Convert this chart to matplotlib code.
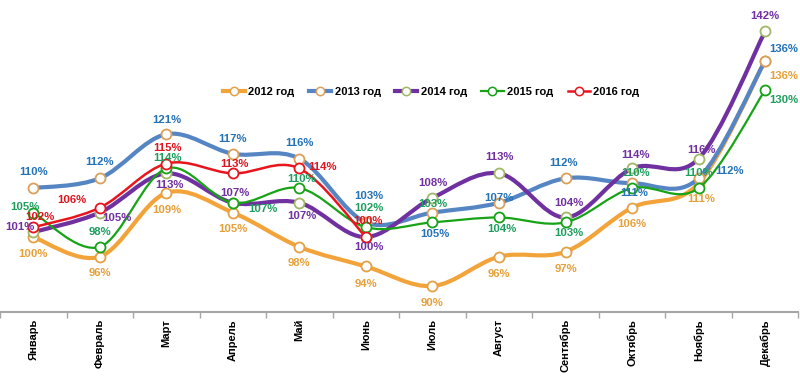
import numpy as np
import matplotlib
matplotlib.use('Agg')
import matplotlib.pyplot as plt
from matplotlib.path import Path
from matplotlib.patches import PathPatch
from matplotlib.lines import Line2D

plt.rcParams['font.family'] = ['Liberation Sans', 'DejaVu Sans']

months = ['Январь', 'Февраль', 'Март', 'Апрель', 'Май', 'Июнь',
          'Июль', 'Август', 'Сентябрь', 'Октябрь', 'Ноябрь', 'Декабрь']
series_names = ['2012 год', '2013 год', '2014 год', '2015 год', '2016 год']
v2012 = [100, 96, 109, 105, 98, 94, 90, 96, 97, 106, 111, 136]
v2013 = [110, 112, 121, 117, 116, 103, 105, 107, 112, 111, 112, 136]
v2014 = [101, 105, 113, 107, 107, 100, 108, 113, 104, 114, 116, 142]
v2015 = [105, 98, 114, 107, 110, 102, 103, 104, 103, 110, 110, 130]
v2016 = [102, 106, 115, 113, 114, 100]

values = [v2012, v2013, v2014, v2015, v2016]

line_colors = ['#F2A43A', '#5585C2', '#7030A0', '#16A316', '#E8141E']
edge_colors = ['#E3A045', '#D9A05B', '#A0B868', '#16A316', '#E8141E']
label_colors = ['#E6A03A', '#2472B8', '#7030A0', '#1E9E5E', '#E0141E']
line_widths = [3.0, 3.0, 3.0, 1.6, 1.8]

# label offsets in pixels (dx right, dy down)
offsets = [
    [(0, 17), (0, 16), (0, 17), (0, 16), (0, 16), (0, 18), (0, 17), (0, 17), (0, 17), (0, 16), (3, 16), (19, 15)],
    [(0, -16), (0, -16), (0, -14), (0, -15), (0, -16), (3, -26), (2, 21), (0, -5), (-2, -15), (2, 10), (31, -7), (19, -12)],
    [(-13, -5), (17, 5), (3, 12), (2, -10), (2, 13), (3, 10), (0, -15), (0, -16), (3, -14), (3, -13), (3, -9), (0, -15)],
    [(-8, -6), (0, -15), (1, -10), (30, 6), (2, -9), (3, -19), (0, -18), (3, 12), (3, 11), (3, -15), (0, -15), (19, 10)],
    [(7, -10), (-28, -8), (1, -16), (2, -9), (23, -1), (2, -16)],
]

fig = plt.figure(figsize=(8, 3.91), dpi=100)
ax = fig.add_axes([0, 1 - 312 / 391, 0.998, 312 / 391])
ax.set_xlim(-0.5, 11.5)
ax.set_ylim(84.7, 148.4)


def smooth_path(xs, ys):
    pts = np.column_stack([xs, ys]).astype(float)
    n = len(pts)
    verts = [pts[0]]
    codes = [Path.MOVETO]
    for i in range(n - 1):
        p_prev = pts[i - 1] if i > 0 else pts[i]
        p_next2 = pts[i + 2] if i + 2 < n else pts[i + 1]
        c1 = pts[i] + (pts[i + 1] - p_prev) / 6.0
        c2 = pts[i + 1] - (p_next2 - pts[i]) / 6.0
        verts += [c1, c2, pts[i + 1]]
        codes += [Path.CURVE4] * 3
    return Path(verts, codes)


for k, vals in enumerate(values):
    xs = np.arange(len(vals))
    z = 2 + k
    patch = PathPatch(smooth_path(xs, vals), fill=False, edgecolor=line_colors[k],
                      lw=line_widths[k], capstyle='round', joinstyle='round', zorder=z)
    ax.add_patch(patch)
    ax.plot(xs, vals, 'o', ms=7.2, mfc='white', mec=edge_colors[k], mew=1.3, zorder=z + 0.1)

for k, vals in enumerate(values):
    for i, v in enumerate(vals):
        dx, dy = offsets[k][i]
        ax.annotate(f'{v}%', (i, v), xytext=(dx, -dy), textcoords='offset pixels',
                    ha='center', va='center', fontsize=8.2, fontweight='bold',
                    color=label_colors[k], zorder=10)

# axes styling
for s in ['top', 'right', 'left']:
    ax.spines[s].set_visible(False)
ax.spines['bottom'].set_color('#A6A6A6')
ax.spines['bottom'].set_linewidth(1.5)
ax.set_yticks([])
ax.set_xticks(np.arange(len(months)))
ax.set_xticklabels(months, rotation=90, fontsize=8, fontweight='bold', va='top')
ax.tick_params(axis='x', which='major', length=0, pad=5)
ax.set_xticks(np.arange(len(months) + 1) - 0.5, minor=True)
ax.tick_params(axis='x', which='minor', length=4, color='#A6A6A6', width=1)

# legend
handles = [Line2D([0], [0], color=line_colors[k], lw=line_widths[k], marker='o', ms=6,
                  mfc='white', mec=edge_colors[k], mew=1.1) for k in range(5)]
leg = fig.legend(handles, series_names, loc='center', bbox_to_anchor=(431 / 800, 1 - 92 / 391),
                 ncol=5, frameon=False, handlelength=2.0, handletextpad=0.3, columnspacing=1.3,
                 prop={'weight': 'bold', 'size': 8})

fig.savefig('out.png', dpi=100)
